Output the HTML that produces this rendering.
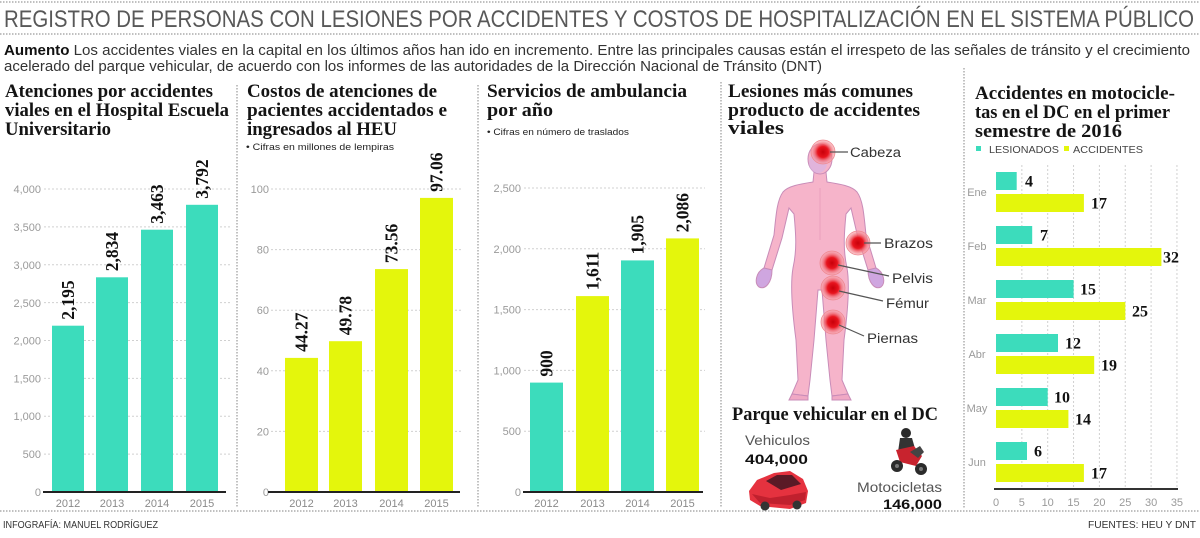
<!DOCTYPE html>
<html><head><meta charset="utf-8">
<style>
html,body{margin:0;padding:0;background:#fff;}
svg{display:block;}
.t{font-family:"Liberation Serif",serif;font-weight:bold;font-size:19px;fill:#141414;}
.tick{font-family:"Liberation Sans",sans-serif;font-size:11px;fill:#9a9a9a;}
.yr{font-family:"Liberation Sans",sans-serif;font-size:11px;fill:#8a8a8a;text-anchor:middle;}
.val{font-family:"Liberation Serif",serif;font-weight:bold;font-size:17.5px;fill:#111;}
.hv{font-family:"Liberation Serif",serif;font-weight:bold;font-size:16px;fill:#111;}
.lbl{font-family:"Liberation Sans",sans-serif;font-size:13.5px;fill:#333;}
.dot{stroke:#9a9a9a;stroke-width:1.2;stroke-dasharray:1.5 1.5;fill:none;}
.grid{stroke:#d0d0d0;stroke-width:1;stroke-dasharray:2 2;fill:none;}
</style></head><body>
<svg width="1200" height="538" viewBox="0 0 1200 538" xmlns="http://www.w3.org/2000/svg">
<defs>
<radialGradient id="rg">
<stop offset="0" stop-color="#c8000a"/>
<stop offset="0.45" stop-color="#e8141e"/>
<stop offset="0.7" stop-color="#f06a74" stop-opacity="0.85"/>
<stop offset="1" stop-color="#f7a6ae" stop-opacity="0.55"/>
</radialGradient>
</defs>
<rect width="1200" height="538" fill="#fff"/>

<!-- header -->
<line class="dot" x1="0" y1="2" x2="1200" y2="2"/>
<text x="4" y="27" font-family="Liberation Sans, sans-serif" font-size="24" fill="#585858" textLength="1190" lengthAdjust="spacingAndGlyphs">REGISTRO DE PERSONAS CON LESIONES POR ACCIDENTES Y COSTOS DE HOSPITALIZACIÓN EN EL SISTEMA PÚBLICO</text>
<line class="dot" x1="0" y1="34" x2="1200" y2="34"/>
<text x="4" y="55" font-family="Liberation Sans, sans-serif" font-size="14.5" fill="#333" textLength="1186" lengthAdjust="spacingAndGlyphs"><tspan font-weight="bold" fill="#111">Aumento</tspan> Los accidentes viales en la capital en los últimos años han ido en incremento. Entre las principales causas están el irrespeto de las señales de tránsito y el crecimiento</text>
<text x="4" y="71" font-family="Liberation Sans, sans-serif" font-size="14.5" fill="#333" textLength="818" lengthAdjust="spacingAndGlyphs">acelerado del parque vehicular, de acuerdo con los informes de las autoridades de la Dirección Nacional de Tránsito (DNT)</text>

<!-- separators -->
<line class="dot" x1="237" y1="85" x2="237" y2="508"/>
<line class="dot" x1="478" y1="85" x2="478" y2="508"/>
<line class="dot" x1="721" y1="82" x2="721" y2="508"/>
<line class="dot" x1="964" y1="68" x2="964" y2="508"/>
<line class="dot" x1="0" y1="511" x2="1200" y2="511"/>

<!-- footer -->
<text x="3" y="528" font-family="Liberation Sans, sans-serif" font-size="10" fill="#333" textLength="155" lengthAdjust="spacingAndGlyphs">INFOGRAFÍA: MANUEL RODRÍGUEZ</text>
<text x="1088" y="528" font-family="Liberation Sans, sans-serif" font-size="10" fill="#333" textLength="108" lengthAdjust="spacingAndGlyphs">FUENTES: HEU Y DNT</text>

<!-- ===== Panel 1 ===== -->
<text class="t" x="5" y="97" textLength="208" lengthAdjust="spacingAndGlyphs">Atenciones por accidentes</text>
<text class="t" x="5" y="116" textLength="224" lengthAdjust="spacingAndGlyphs">viales en el Hospital Escuela</text>
<text class="t" x="5" y="135" textLength="106" lengthAdjust="spacingAndGlyphs">Universitario</text>
<g>
<line class="grid" x1="44" y1="189" x2="230" y2="189"/>
<line class="grid" x1="44" y1="226.9" x2="230" y2="226.9"/>
<line class="grid" x1="44" y1="264.75" x2="230" y2="264.75"/>
<line class="grid" x1="44" y1="302.6" x2="230" y2="302.6"/>
<line class="grid" x1="44" y1="340.5" x2="230" y2="340.5"/>
<line class="grid" x1="44" y1="378.4" x2="230" y2="378.4"/>
<line class="grid" x1="44" y1="416.25" x2="230" y2="416.25"/>
<line class="grid" x1="44" y1="454.1" x2="230" y2="454.1"/>
<text class="tick" x="41" y="193" text-anchor="end">4,000</text>
<text class="tick" x="41" y="231" text-anchor="end">3,500</text>
<text class="tick" x="41" y="269" text-anchor="end">3,000</text>
<text class="tick" x="41" y="307" text-anchor="end">2,500</text>
<text class="tick" x="41" y="344.5" text-anchor="end">2,000</text>
<text class="tick" x="41" y="382.5" text-anchor="end">1,500</text>
<text class="tick" x="41" y="420" text-anchor="end">1,000</text>
<text class="tick" x="41" y="458" text-anchor="end">500</text>
<text class="tick" x="41" y="496" text-anchor="end">0</text>
<rect x="52" y="325.7" width="32" height="166.3" fill="#3cdcbc"/>
<rect x="96" y="277.3" width="32" height="214.7" fill="#3cdcbc"/>
<rect x="141" y="229.7" width="32" height="262.3" fill="#3cdcbc"/>
<rect x="186" y="204.8" width="32" height="287.2" fill="#3cdcbc"/>
<line x1="43" y1="492" x2="226" y2="492" stroke="#222" stroke-width="2"/>
<text class="yr" x="68" y="507">2012</text>
<text class="yr" x="112" y="507">2013</text>
<text class="yr" x="157" y="507">2014</text>
<text class="yr" x="202" y="507">2015</text>
<text class="val" transform="translate(74,319.7) rotate(-90)">2,195</text>
<text class="val" transform="translate(118,271.3) rotate(-90)">2,834</text>
<text class="val" transform="translate(163,223.7) rotate(-90)">3,463</text>
<text class="val" transform="translate(208,198.8) rotate(-90)">3,792</text>
</g>

<!-- ===== Panel 2 ===== -->
<text class="t" x="247" y="97" textLength="190" lengthAdjust="spacingAndGlyphs">Costos de atenciones de</text>
<text class="t" x="247" y="116" textLength="200" lengthAdjust="spacingAndGlyphs">pacientes accidentados e</text>
<text class="t" x="247" y="135" textLength="150" lengthAdjust="spacingAndGlyphs">ingresados al HEU</text>
<text x="246" y="150" font-family="Liberation Sans, sans-serif" font-size="9.5" fill="#222" textLength="148" lengthAdjust="spacingAndGlyphs">• Cifras en millones de lempiras</text>
<g>
<line class="grid" x1="271" y1="189" x2="462" y2="189"/>
<line class="grid" x1="271" y1="249.6" x2="462" y2="249.6"/>
<line class="grid" x1="271" y1="310.2" x2="462" y2="310.2"/>
<line class="grid" x1="271" y1="370.8" x2="462" y2="370.8"/>
<line class="grid" x1="271" y1="431.4" x2="462" y2="431.4"/>
<text class="tick" x="269" y="193" text-anchor="end">100</text>
<text class="tick" x="269" y="253.6" text-anchor="end">80</text>
<text class="tick" x="269" y="314.2" text-anchor="end">60</text>
<text class="tick" x="269" y="374.8" text-anchor="end">40</text>
<text class="tick" x="269" y="435.4" text-anchor="end">20</text>
<text class="tick" x="269" y="496" text-anchor="end">0</text>
<rect x="285" y="357.9" width="33" height="134.1" fill="#e4f60c"/>
<rect x="329" y="341.2" width="33" height="150.8" fill="#e4f60c"/>
<rect x="375" y="269.1" width="33" height="222.9" fill="#e4f60c"/>
<rect x="420" y="197.9" width="33" height="294.1" fill="#e4f60c"/>
<line x1="268" y1="492" x2="460" y2="492" stroke="#222" stroke-width="2"/>
<text class="yr" x="301.5" y="507">2012</text>
<text class="yr" x="345.5" y="507">2013</text>
<text class="yr" x="391.5" y="507">2014</text>
<text class="yr" x="436.5" y="507">2015</text>
<text class="val" transform="translate(307.5,351.9) rotate(-90)">44.27</text>
<text class="val" transform="translate(351.5,335.2) rotate(-90)">49.78</text>
<text class="val" transform="translate(397.5,263.1) rotate(-90)">73.56</text>
<text class="val" transform="translate(442.5,191.9) rotate(-90)">97.06</text>
</g>

<!-- ===== Panel 3 ===== -->
<text class="t" x="487" y="97" textLength="200" lengthAdjust="spacingAndGlyphs">Servicios  de ambulancia</text>
<text class="t" x="487" y="116" textLength="66" lengthAdjust="spacingAndGlyphs">por año</text>
<text x="487" y="135" font-family="Liberation Sans, sans-serif" font-size="9.5" fill="#222" textLength="142" lengthAdjust="spacingAndGlyphs">• Cifras en número de traslados</text>
<g>
<line class="grid" x1="524" y1="188" x2="705" y2="188"/>
<line class="grid" x1="524" y1="248.8" x2="705" y2="248.8"/>
<line class="grid" x1="524" y1="309.6" x2="705" y2="309.6"/>
<line class="grid" x1="524" y1="370.4" x2="705" y2="370.4"/>
<line class="grid" x1="524" y1="431.2" x2="705" y2="431.2"/>
<text class="tick" x="521" y="192" text-anchor="end">2,500</text>
<text class="tick" x="521" y="252.8" text-anchor="end">2,000</text>
<text class="tick" x="521" y="313.6" text-anchor="end">1,500</text>
<text class="tick" x="521" y="374.4" text-anchor="end">1,000</text>
<text class="tick" x="521" y="435.2" text-anchor="end">500</text>
<text class="tick" x="521" y="496" text-anchor="end">0</text>
<rect x="530" y="382.6" width="33" height="109.4" fill="#3cdcbc"/>
<rect x="576" y="296.1" width="33" height="195.9" fill="#e4f60c"/>
<rect x="621" y="260.4" width="33" height="231.6" fill="#3cdcbc"/>
<rect x="666" y="238.4" width="33" height="253.6" fill="#e4f60c"/>
<line x1="523" y1="492" x2="703" y2="492" stroke="#222" stroke-width="2"/>
<text class="yr" x="546.5" y="507">2012</text>
<text class="yr" x="592.5" y="507">2013</text>
<text class="yr" x="637.5" y="507">2014</text>
<text class="yr" x="682.5" y="507">2015</text>
<text class="val" transform="translate(552.5,376.6) rotate(-90)">900</text>
<text class="val" transform="translate(598.5,290.1) rotate(-90)">1,611</text>
<text class="val" transform="translate(643.5,254.4) rotate(-90)">1,905</text>
<text class="val" transform="translate(688.5,232.4) rotate(-90)">2,086</text>
</g>

<!-- ===== Panel 4 ===== -->
<text class="t" x="728" y="97" textLength="185" lengthAdjust="spacingAndGlyphs">Lesiones más comunes</text>
<text class="t" x="728" y="116" textLength="192" lengthAdjust="spacingAndGlyphs">producto de accidentes</text>
<text class="t" x="728" y="134" textLength="56" lengthAdjust="spacingAndGlyphs">viales</text>

<!-- body -->
<g stroke="#c88cb8" stroke-width="1">
<path d="M814 172 L813 182 C800 184 788 186 783 192 C777 200 776 215 774 235 L764 268 L772 270 L782 238 L789 208 L794 214 C796 235 797 250 793 268 C790 285 792 310 796 340 L798 380 L792 394 L808 396 L810 380 L814 340 L818 290 L822 290 L826 340 L830 380 L832 396 L848 394 L842 380 L844 340 C848 310 850 285 847 268 C843 250 844 235 846 214 L851 208 L858 238 L868 270 L876 268 L866 235 C864 215 863 200 857 192 C852 186 840 184 827 182 L826 172 Z" fill="#f6b4ca"/>
<path d="M764 268 C756 272 754 283 759 287 C765 290 772 283 772 270 Z" fill="#cfa6e0"/>
<path d="M876 268 C884 272 886 283 881 287 C875 290 868 283 868 270 Z" fill="#cfa6e0"/>
<path d="M792 394 L789 400 L808 400 L808 396 Z" fill="#f0a8c4"/>
<path d="M832 396 L832 400 L851 400 L848 394 Z" fill="#f0a8c4"/>
<ellipse cx="820" cy="159" rx="12" ry="15" fill="#f6b4ca"/>
<ellipse cx="818" cy="163" rx="9" ry="10" fill="#d9b4e4" stroke="none" opacity="0.7"/>
</g>
<line x1="820" y1="188" x2="820" y2="240" stroke="#e79cb9" stroke-width="0.8"/>
<!-- injury dots -->
<g>
<circle cx="823" cy="152" r="12" fill="url(#rg)" stroke="#ee8890" stroke-width="0.8"/>
<circle cx="858" cy="243" r="12" fill="url(#rg)" stroke="#ee8890" stroke-width="0.8"/>
<circle cx="832" cy="263" r="12" fill="url(#rg)" stroke="#ee8890" stroke-width="0.8"/>
<circle cx="833" cy="288" r="12" fill="url(#rg)" stroke="#ee8890" stroke-width="0.8"/>
<circle cx="833" cy="322" r="12" fill="url(#rg)" stroke="#ee8890" stroke-width="0.8"/>
</g>
<g stroke="#555" stroke-width="1.2">
<line x1="830" y1="152" x2="848" y2="152"/>
<line x1="864" y1="243" x2="881" y2="243"/>
<line x1="838" y1="265" x2="889" y2="276"/>
<line x1="839" y1="291" x2="883" y2="301"/>
<line x1="839" y1="325" x2="864" y2="336"/>
</g>
<text class="lbl" x="850" y="157" textLength="51" lengthAdjust="spacingAndGlyphs">Cabeza</text>
<text class="lbl" x="884" y="248" textLength="49" lengthAdjust="spacingAndGlyphs">Brazos</text>
<text class="lbl" x="892" y="283" textLength="41" lengthAdjust="spacingAndGlyphs">Pelvis</text>
<text class="lbl" x="886" y="308" textLength="43" lengthAdjust="spacingAndGlyphs">Fémur</text>
<text class="lbl" x="867" y="343" textLength="51" lengthAdjust="spacingAndGlyphs">Piernas</text>

<!-- parque vehicular -->
<text class="t" x="732" y="420" textLength="206" lengthAdjust="spacingAndGlyphs">Parque vehicular en el DC</text>
<text x="745" y="445" font-family="Liberation Sans, sans-serif" font-size="14" fill="#555" textLength="65" lengthAdjust="spacingAndGlyphs">Vehiculos</text>
<text x="745" y="464" font-family="Liberation Sans, sans-serif" font-weight="bold" font-size="14" fill="#111" textLength="63" lengthAdjust="spacingAndGlyphs">404,000</text>
<text x="857" y="492" font-family="Liberation Sans, sans-serif" font-size="14" fill="#555" textLength="85" lengthAdjust="spacingAndGlyphs">Motocicletas</text>
<text x="883" y="509" font-family="Liberation Sans, sans-serif" font-weight="bold" font-size="14" fill="#111" textLength="59" lengthAdjust="spacingAndGlyphs">146,000</text>
<!-- car -->
<g>
<path d="M749 491 L757 480 L774 473 L790 471 L803 479 L808 491 L806 503 L790 509 L760 506 L750 500 Z" fill="#e5323f"/>
<path d="M766 481 L777 475 L792 475 L801 484 L781 490 Z" fill="#5a1a26"/>
<path d="M752 494 L770 498 L790 495 L806 492 L805 500 L790 505 L760 503 Z" fill="#c0202e"/>
<circle cx="765" cy="506" r="4.5" fill="#333"/>
<circle cx="797" cy="505" r="4.5" fill="#333"/>
</g>
<!-- motorcycle -->
<g>
<circle cx="906" cy="433" r="5" fill="#2a2a2a"/>
<path d="M900 438 L912 438 L916 452 L908 458 L898 452 Z" fill="#333"/>
<path d="M896 450 L914 446 L922 456 L916 466 L900 462 Z" fill="#c8232e"/>
<path d="M910 452 L920 446 L924 452 L918 458 Z" fill="#444"/>
<circle cx="897" cy="466" r="6" fill="#2b2b2b"/>
<circle cx="921" cy="469" r="6" fill="#2b2b2b"/>
<circle cx="897" cy="466" r="2" fill="#777"/>
<circle cx="921" cy="469" r="2" fill="#777"/>
</g>

<!-- ===== Panel 5 ===== -->
<text class="t" x="975" y="99" textLength="200" lengthAdjust="spacingAndGlyphs">Accidentes en motocicle-</text>
<text class="t" x="975" y="118" textLength="195" lengthAdjust="spacingAndGlyphs">tas en el DC en el primer</text>
<text class="t" x="975" y="137" textLength="147" lengthAdjust="spacingAndGlyphs">semestre de 2016</text>
<rect x="976" y="146" width="5" height="5" fill="#3cdcbc"/>
<text x="989" y="153" font-family="Liberation Sans, sans-serif" font-size="10.5" fill="#444" textLength="70" lengthAdjust="spacingAndGlyphs">LESIONADOS</text>
<rect x="1064" y="146" width="5" height="5" fill="#e4f60c"/>
<text x="1073" y="153" font-family="Liberation Sans, sans-serif" font-size="10.5" fill="#444" textLength="70" lengthAdjust="spacingAndGlyphs">ACCIDENTES</text>
<g>
<line class="grid" x1="1021.85" y1="165" x2="1021.85" y2="488"/>
<line class="grid" x1="1047.7" y1="165" x2="1047.7" y2="488"/>
<line class="grid" x1="1073.55" y1="165" x2="1073.55" y2="488"/>
<line class="grid" x1="1099.4" y1="165" x2="1099.4" y2="488"/>
<line class="grid" x1="1125.25" y1="165" x2="1125.25" y2="488"/>
<line class="grid" x1="1151.1" y1="165" x2="1151.1" y2="488"/>
<line class="grid" x1="1176.95" y1="165" x2="1176.95" y2="488"/>

<text class="tick" x="977" y="196" text-anchor="middle">Ene</text>
<text class="tick" x="977" y="250" text-anchor="middle">Feb</text>
<text class="tick" x="977" y="304" text-anchor="middle">Mar</text>
<text class="tick" x="977" y="358" text-anchor="middle">Abr</text>
<text class="tick" x="977" y="412" text-anchor="middle">May</text>
<text class="tick" x="977" y="466" text-anchor="middle">Jun</text>

<rect x="996" y="172" width="20.7" height="18" fill="#3cdcbc"/>
<rect x="996" y="194" width="87.9" height="18" fill="#e4f60c"/>
<rect x="996" y="226" width="36.2" height="18" fill="#3cdcbc"/>
<rect x="996" y="248" width="165.4" height="18" fill="#e4f60c"/>
<rect x="996" y="280" width="77.6" height="18" fill="#3cdcbc"/>
<rect x="996" y="302" width="129.3" height="18" fill="#e4f60c"/>
<rect x="996" y="334" width="62" height="18" fill="#3cdcbc"/>
<rect x="996" y="356" width="98.2" height="18" fill="#e4f60c"/>
<rect x="996" y="388" width="51.7" height="18" fill="#3cdcbc"/>
<rect x="996" y="410" width="72.4" height="18" fill="#e4f60c"/>
<rect x="996" y="442" width="31" height="18" fill="#3cdcbc"/>
<rect x="996" y="464" width="87.9" height="18" fill="#e4f60c"/>

<text class="hv" x="1025" y="186.5">4</text>
<text class="hv" x="1091" y="208.5">17</text>
<text class="hv" x="1040" y="240.5">7</text>
<text class="hv" x="1163" y="262.5">32</text>
<text class="hv" x="1080" y="294.5">15</text>
<text class="hv" x="1132" y="316.5">25</text>
<text class="hv" x="1065" y="348.5">12</text>
<text class="hv" x="1101" y="370.5">19</text>
<text class="hv" x="1054" y="402.5">10</text>
<text class="hv" x="1075" y="424.5">14</text>
<text class="hv" x="1034" y="456.5">6</text>
<text class="hv" x="1091" y="478.5">17</text>

<line x1="994" y1="489" x2="1178" y2="489" stroke="#333" stroke-width="2"/>
<text class="tick" x="996" y="506" text-anchor="middle">0</text>
<text class="tick" x="1021.85" y="506" text-anchor="middle">5</text>
<text class="tick" x="1047.7" y="506" text-anchor="middle">10</text>
<text class="tick" x="1073.55" y="506" text-anchor="middle">15</text>
<text class="tick" x="1099.4" y="506" text-anchor="middle">20</text>
<text class="tick" x="1125.25" y="506" text-anchor="middle">25</text>
<text class="tick" x="1151.1" y="506" text-anchor="middle">30</text>
<text class="tick" x="1176.95" y="506" text-anchor="middle">35</text>
</g>
</svg>
</body></html>
